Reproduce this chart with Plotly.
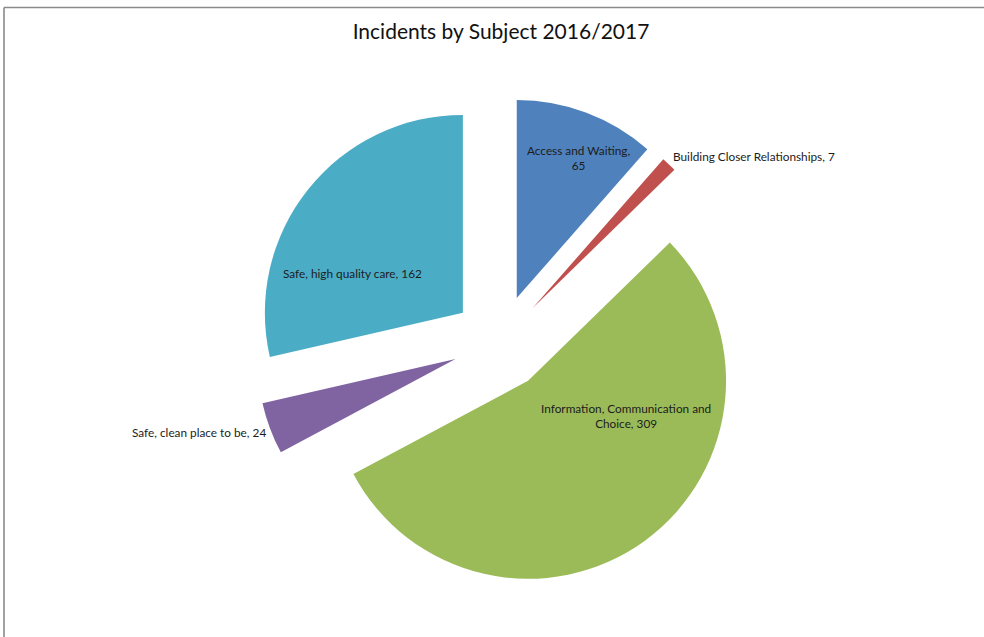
import plotly.graph_objects as go

# Incidents by subject, financial year 2016/2017
subjects = [
    "Access and Waiting",
    "Building Closer Relationships",
    "Information, Communication and Choice",
    "Safe, clean place to be",
    "Safe, high quality care",
]
incidents = [65, 7, 309, 24, 162]
colors = ["#4F81BD", "#C0504D", "#9BBB59", "#8064A2", "#4BACC6"]

W, H = 984, 637
PULL = 0.24
FONT = "Lato, 'Open Sans', sans-serif"

def fx(px):
    return px / W

def fy(py):
    return 1 - py / H

fig = go.Figure(
    go.Pie(
        labels=subjects,
        values=incidents,
        sort=False,
        direction="clockwise",
        rotation=0,
        pull=[PULL] * len(incidents),
        marker=dict(colors=colors, line=dict(width=0)),
        textinfo="none",
        hoverinfo="label+value+percent",
        showlegend=False,
        automargin=False,
        domain=dict(x=[fx(16), 1], y=[fy(588), fy(97)]),
    )
)

# data labels: "<subject>, <count>", wrapped where the slice is narrow
def label_text(i):
    s, v = subjects[i], incidents[i]
    if i == 0:
        return f"{s},<br>{v}"
    if i == 2:
        head, tail = s.rsplit(" ", 1)
        return f"{head}<br>{tail}, {v}"
    return f"{s}, {v}"

# (x, y, xanchor) in pixels for each slice label
label_spots = [
    (578, 158, "center"),
    (671, 157, "left"),
    (626, 416, "center"),
    (268, 432, "right"),
    (352, 274, "center"),
]

for i, (x, y, anchor) in enumerate(label_spots):
    fig.add_annotation(
        x=fx(x), y=fy(y), xref="paper", yref="paper",
        text=label_text(i), showarrow=False,
        xanchor=anchor, yanchor="middle", align="center",
        font=dict(family=FONT, size=11.8, color="#1c1c1c"),
    )

# thin grey frame along the top and left edges
frame = dict(color="#8a8a8a", width=1.6)
fig.add_shape(type="line", xref="paper", yref="paper",
              x0=fx(4), x1=1, y0=fy(7.5), y1=fy(7.5), line=frame)
fig.add_shape(type="line", xref="paper", yref="paper",
              x0=fx(4), x1=fx(4), y0=fy(7.5), y1=0, line=frame)

fig.update_layout(
    width=W,
    height=H,
    margin=dict(l=0, r=0, t=0, b=0),
    autosize=False,
    paper_bgcolor="white",
    plot_bgcolor="white",
    title=dict(
        text="Incidents by Subject 2016/2017",
        x=fx(501),
        xanchor="center",
        y=fy(32),
        yanchor="middle",
        font=dict(family=FONT, size=21, color="#111111"),
    ),
)

fig.write_html("out.html")
